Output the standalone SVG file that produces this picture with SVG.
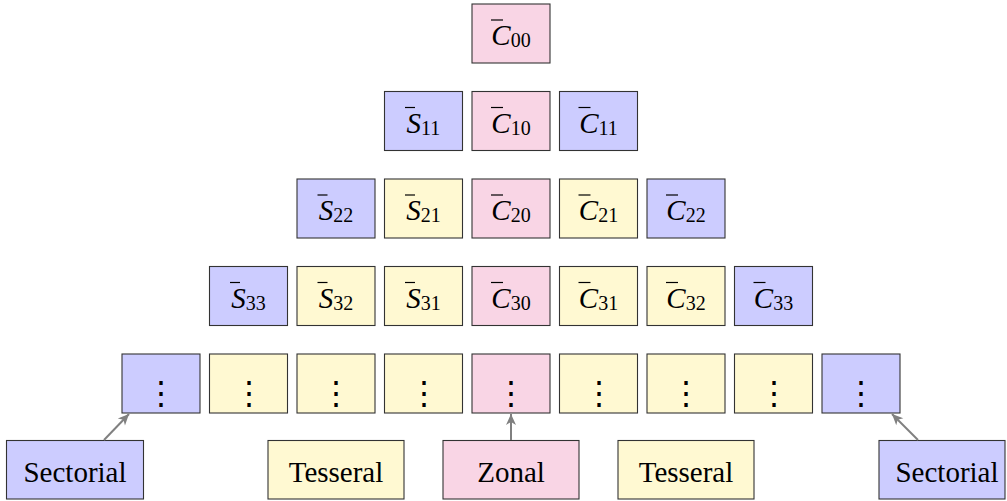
<svg xmlns="http://www.w3.org/2000/svg" width="1007" height="501" viewBox="0 0 1007 501">
<style>
.b{stroke:#333;stroke-width:1.1}
.pk{fill:#F9D5E5}
.bl{fill:#CCCCFF}
.ye{fill:#FFF9D2}
.t{font-size:29px;fill:#000;text-anchor:middle}
.i{font-style:italic}
.s{font-size:20px}
.bar{stroke:#000;stroke-width:1.2}
.d{font-size:32px;fill:#000;text-anchor:middle}
.ar{stroke:#808080;stroke-width:2;fill:none;marker-end:url(#ah)}
</style>
<defs>
<marker id="ah" markerUnits="userSpaceOnUse" viewBox="-12 -6 13 12" refX="0" refY="0" markerWidth="13" markerHeight="12" orient="auto">
<path d="M0,0 L-11,-5 L-8,0 L-11,5 Z" fill="#808080"/>
</marker>
</defs>
<g font-family="Liberation Serif">
<g id="C00"><rect class="b pk" x="472" y="4" width="78" height="59"/><line class="bar" x1="491" y1="20" x2="503" y2="20"/><text class="t" font-family="Liberation Serif" x="511" y="45"><tspan class="i">C</tspan><tspan class="s" dy="2">00</tspan></text></g>

<g id="S11"><rect class="b bl" x="384.5" y="91.5" width="78" height="59"/><line class="bar" x1="405" y1="107.5" x2="415" y2="107.5"/><text class="t" font-family="Liberation Serif" x="423.5" y="132.5"><tspan class="i">S</tspan><tspan class="s" dy="2">11</tspan></text></g>
<g id="C10"><rect class="b pk" x="472" y="91.5" width="78" height="59"/><line class="bar" x1="491" y1="107.5" x2="503" y2="107.5"/><text class="t" font-family="Liberation Serif" x="511" y="132.5"><tspan class="i">C</tspan><tspan class="s" dy="2">10</tspan></text></g>
<g id="C11"><rect class="b bl" x="559.5" y="91.5" width="78" height="59"/><line class="bar" x1="578.5" y1="107.5" x2="590.5" y2="107.5"/><text class="t" font-family="Liberation Serif" x="598.5" y="132.5"><tspan class="i">C</tspan><tspan class="s" dy="2">11</tspan></text></g>

<g id="S22"><rect class="b bl" x="297" y="179" width="78" height="59"/><line class="bar" x1="317.5" y1="195" x2="327.5" y2="195"/><text class="t" font-family="Liberation Serif" x="336" y="220"><tspan class="i">S</tspan><tspan class="s" dy="2">22</tspan></text></g>
<g id="S21"><rect class="b ye" x="384.5" y="179" width="78" height="59"/><line class="bar" x1="405" y1="195" x2="415" y2="195"/><text class="t" font-family="Liberation Serif" x="423.5" y="220"><tspan class="i">S</tspan><tspan class="s" dy="2">21</tspan></text></g>
<g id="C20"><rect class="b pk" x="472" y="179" width="78" height="59"/><line class="bar" x1="491" y1="195" x2="503" y2="195"/><text class="t" font-family="Liberation Serif" x="511" y="220"><tspan class="i">C</tspan><tspan class="s" dy="2">20</tspan></text></g>
<g id="C21"><rect class="b ye" x="559.5" y="179" width="78" height="59"/><line class="bar" x1="578.5" y1="195" x2="590.5" y2="195"/><text class="t" font-family="Liberation Serif" x="598.5" y="220"><tspan class="i">C</tspan><tspan class="s" dy="2">21</tspan></text></g>
<g id="C22"><rect class="b bl" x="647" y="179" width="78" height="59"/><line class="bar" x1="666" y1="195" x2="678" y2="195"/><text class="t" font-family="Liberation Serif" x="686" y="220"><tspan class="i">C</tspan><tspan class="s" dy="2">22</tspan></text></g>

<g id="S33"><rect class="b bl" x="209.5" y="266.5" width="78" height="59"/><line class="bar" x1="230" y1="282.5" x2="240" y2="282.5"/><text class="t" font-family="Liberation Serif" x="248.5" y="307.5"><tspan class="i">S</tspan><tspan class="s" dy="2">33</tspan></text></g>
<g id="S32"><rect class="b ye" x="297" y="266.5" width="78" height="59"/><line class="bar" x1="317.5" y1="282.5" x2="327.5" y2="282.5"/><text class="t" font-family="Liberation Serif" x="336" y="307.5"><tspan class="i">S</tspan><tspan class="s" dy="2">32</tspan></text></g>
<g id="S31"><rect class="b ye" x="384.5" y="266.5" width="78" height="59"/><line class="bar" x1="405" y1="282.5" x2="415" y2="282.5"/><text class="t" font-family="Liberation Serif" x="423.5" y="307.5"><tspan class="i">S</tspan><tspan class="s" dy="2">31</tspan></text></g>
<g id="C30"><rect class="b pk" x="472" y="266.5" width="78" height="59"/><line class="bar" x1="491" y1="282.5" x2="503" y2="282.5"/><text class="t" font-family="Liberation Serif" x="511" y="307.5"><tspan class="i">C</tspan><tspan class="s" dy="2">30</tspan></text></g>
<g id="C31"><rect class="b ye" x="559.5" y="266.5" width="78" height="59"/><line class="bar" x1="578.5" y1="282.5" x2="590.5" y2="282.5"/><text class="t" font-family="Liberation Serif" x="598.5" y="307.5"><tspan class="i">C</tspan><tspan class="s" dy="2">31</tspan></text></g>
<g id="C32"><rect class="b ye" x="647" y="266.5" width="78" height="59"/><line class="bar" x1="666" y1="282.5" x2="678" y2="282.5"/><text class="t" font-family="Liberation Serif" x="686" y="307.5"><tspan class="i">C</tspan><tspan class="s" dy="2">32</tspan></text></g>
<g id="C33"><rect class="b bl" x="734.5" y="266.5" width="78" height="59"/><line class="bar" x1="753.5" y1="282.5" x2="765.5" y2="282.5"/><text class="t" font-family="Liberation Serif" x="773.5" y="307.5"><tspan class="i">C</tspan><tspan class="s" dy="2">33</tspan></text></g>

<g id="D-4"><rect class="b bl" x="122" y="354" width="78" height="59"/><text class="d" font-family="DejaVu Serif" x="161" y="403.5">⋮</text></g>
<g id="D-3"><rect class="b ye" x="209.5" y="354" width="78" height="59"/><text class="d" font-family="DejaVu Serif" x="248.5" y="403.5">⋮</text></g>
<g id="D-2"><rect class="b ye" x="297" y="354" width="78" height="59"/><text class="d" font-family="DejaVu Serif" x="336" y="403.5">⋮</text></g>
<g id="D-1"><rect class="b ye" x="384.5" y="354" width="78" height="59"/><text class="d" font-family="DejaVu Serif" x="423.5" y="403.5">⋮</text></g>
<g id="D0"><rect class="b pk" x="472" y="354" width="78" height="59"/><text class="d" font-family="DejaVu Serif" x="511" y="403.5">⋮</text></g>
<g id="D1"><rect class="b ye" x="559.5" y="354" width="78" height="59"/><text class="d" font-family="DejaVu Serif" x="598.5" y="403.5">⋮</text></g>
<g id="D2"><rect class="b ye" x="647" y="354" width="78" height="59"/><text class="d" font-family="DejaVu Serif" x="686" y="403.5">⋮</text></g>
<g id="D3"><rect class="b ye" x="734.5" y="354" width="78" height="59"/><text class="d" font-family="DejaVu Serif" x="773.5" y="403.5">⋮</text></g>
<g id="D4"><rect class="b bl" x="822" y="354" width="78" height="59"/><text class="d" font-family="DejaVu Serif" x="861" y="403.5">⋮</text></g>

<g id="SectorialL"><rect class="b bl" x="6.5" y="440.5" width="137" height="58.5"/><text class="t" font-family="Liberation Serif" x="75" y="482">Sectorial</text></g>
<g id="TesseralL"><rect class="b ye" x="268" y="440.5" width="136" height="58.5"/><text class="t" font-family="Liberation Serif" x="336" y="482">Tesseral</text></g>
<g id="Zonal"><rect class="b pk" x="443" y="440.5" width="136" height="58.5"/><text class="t" font-family="Liberation Serif" x="511" y="482">Zonal</text></g>
<g id="TesseralR"><rect class="b ye" x="618" y="440.5" width="136" height="58.5"/><text class="t" font-family="Liberation Serif" x="686" y="482">Tesseral</text></g>
<g id="SectorialR"><rect class="b bl" x="879" y="440.5" width="126" height="58.5"/><text class="t" font-family="Liberation Serif" x="947" y="482">Sectorial</text></g>
</g>
<g id="connectors">
<line class="ar" x1="104" y1="440" x2="129" y2="414"/>
<line class="ar" x1="511" y1="440" x2="511" y2="414"/>
<line class="ar" x1="918" y1="440" x2="892" y2="414"/>
</g>
</svg>
